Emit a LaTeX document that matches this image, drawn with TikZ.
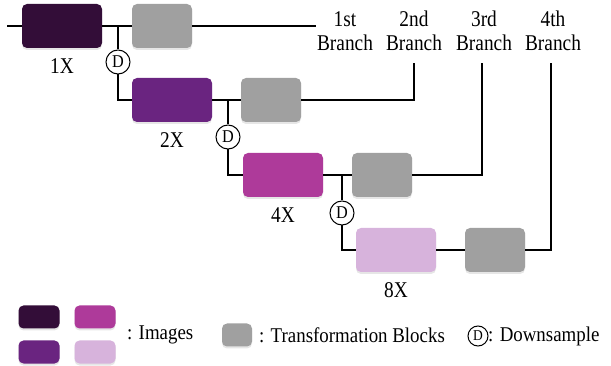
\documentclass[tikz,border=0pt]{standalone}
\usepackage{fontspec}
\setmainfont{Liberation Serif}[FakeStretch=0.9]
\newfontfamily\labelfont{Liberation Serif}[FakeStretch=0.86]
\usepackage{xcolor}
\usetikzlibrary{positioning, shadows}

\definecolor{scaleA}{HTML}{330D38}
\definecolor{scaleB}{HTML}{6A2480}
\definecolor{scaleC}{HTML}{AE3A9A}
\definecolor{scaleD}{HTML}{D7B3DC}
\definecolor{tgray}{HTML}{A0A0A0}

\begin{document}
\begin{tikzpicture}[x=1pt,y=-1pt,font=\fontsize{21}{23}\selectfont,
    img/.style={rounded corners=5pt,minimum width=80pt,minimum height=44pt,
        drop shadow={shadow xshift=0pt,shadow yshift=-2pt,opacity=0.2}},
    tblock/.style={img,fill=tgray,minimum width=60pt},
    down/.style={circle,draw,fill=white,line width=1pt,inner sep=0pt,
        minimum size=24pt,font=\fontsize{18}{18}\selectfont},
    lbl/.style={font=\labelfont\fontsize{22.5}{23.5}\selectfont},
    wire/.style={line width=1.3pt}]
    \useasboundingbox (0,0) rectangle (611,366);

    % image scales and transformation blocks
    \node[img,fill=scaleA] (img1) at (62,26) {};
    \node[tblock] (tb1) at (162,26) {};
    \node[img,fill=scaleB] (img2) at (172,100) {};
    \node[tblock] (tb2) at (271,100) {};
    \node[img,fill=scaleC] (img4) at (283,175) {};
    \node[tblock] (tb4) at (382,175) {};
    \node[img,fill=scaleD] (img8) at (396,250) {};
    \node[tblock] (tb8) at (495,250) {};

    \node[lbl,below=7pt of img1] (l1) {1X};
    \node[lbl,below=7pt of img2] (l2) {2X};
    \node[lbl,below=7pt of img4] (l4) {4X};
    \node[lbl,below=7pt of img8] (l8) {8X};

    \node[down] (d1) at (118,62) {D};
    \node[down] (d2) at (228,137) {D};
    \node[down] (d3) at (342,213) {D};

    \node[lbl,align=center] (br1) at (345,31) {1st\\Branch};
    \node[lbl,align=center] (br2) at (414,31) {2nd\\Branch};
    \node[lbl,align=center] (br3) at (484,31) {3rd\\Branch};
    \node[lbl,align=center] (br4) at (553,31) {4th\\Branch};

    \coordinate (in) at (7,26);
    \coordinate (out1) at (316,26);
    \coordinate (out2) at (414,63);
    \coordinate (out3) at (482,63);
    \coordinate (out4) at (551,63);
    \coordinate (j1) at (118,26);
    \coordinate (j2) at (228,100);
    \coordinate (j3) at (342,175);

    % connections
    \draw[wire] (in) -- (img1.west);
    \draw[wire] (img1.east) -- (tb1.west);
    \draw[wire] (tb1.east) -- (out1);
    \draw[wire] (j1) -- (d1);
    \draw[wire] (d1) |- (img2.west);
    \draw[wire] (img2.east) -- (tb2.west);
    \draw[wire] (tb2.east) -| (out2);
    \draw[wire] (j2) -- (d2);
    \draw[wire] (d2) |- (img4.west);
    \draw[wire] (img4.east) -- (tb4.west);
    \draw[wire] (tb4.east) -| (out3);
    \draw[wire] (j3) -- (d3);
    \draw[wire] (d3) |- (img8.west);
    \draw[wire] (img8.east) -- (tb8.west);
    \draw[wire] (tb8.east) -| (out4);

    % legend
    \node[img,fill=scaleA,minimum width=41pt,minimum height=23pt] (k1) at (39,317) {};
    \node[img,fill=scaleC,minimum width=41pt,minimum height=23pt] (k4) at (95,317) {};
    \node[img,fill=scaleB,minimum width=41pt,minimum height=23pt] (k2) at (39,352) {};
    \node[img,fill=scaleD,minimum width=41pt,minimum height=23pt] (k8) at (95,352) {};
    \node[anchor=west,inner sep=0pt] (kimg) at (127,335) {: Images};
    \node[tblock,minimum width=30pt,minimum height=23pt] (ktb) at (237,335) {};
    \node[anchor=west,inner sep=0pt] (ktbl) at (259,335) {: Transformation Blocks};
    \node[down,minimum size=20pt,font=\fontsize{15}{15}\selectfont] (kd) at (478,336) {D};
    \node[anchor=west,inner sep=0pt] (kdl) at (488,336) {: Downsample};
\end{tikzpicture}
\end{document}
